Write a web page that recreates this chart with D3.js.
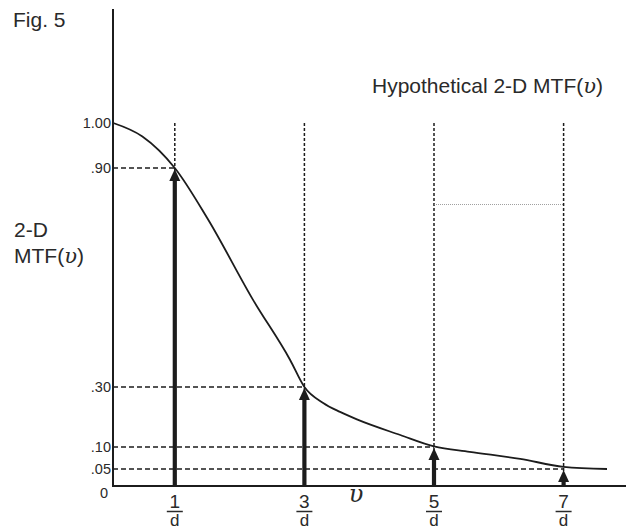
<!DOCTYPE html>
<html>
<head>
<meta charset="utf-8">
<script src="https://cdn.jsdelivr.net/npm/d3@7"></script>
<style>
  body { margin: 0; background: #fff; }
  text { font-family: "Liberation Sans", Arial, sans-serif; fill: #2a2a2a; }
</style>
</head>
<body>
<script>
// curve samples (nu in units of 1/d)
var curveNu  = [0.05, 0.5, 1, 1.5, 2.21, 2.78, 3, 3.29, 3.55, 3.81, 4.48, 5, 5.55, 6.33, 7, 7.67];
var curveMtf = [1.00, 0.97, 0.90, 0.763, 0.538, 0.374, 0.30, 0.247, 0.217, 0.192, 0.14, 0.102, 0.089, 0.073, 0.055, 0.05];

// sampling points: harmonics 1/d, 3/d, 5/d, 7/d
var harmonics = [1, 3, 5, 7];
var harmonicMtf = [0.90, 0.30, 0.10, 0.05];

// y tick labels (the figure is schematic, so the axis is not uniform)
var yTicks = [1.00, 0.90, 0.30, 0.10, 0.05];
var yTickLabels = ["1.00", ".90", ".30", ".10", ".05"];

// faint leftover guide between 5/d and 7/d
var guideNu = [5, 7];
var guideMtf = 0.80;

var width = 626, height = 529;
var axisX = 113, axisY = 486;

var svg = d3.select("body").append("svg")
  .attr("width", width).attr("height", height);

var x = d3.scaleLinear().domain([0, 8]).range([110, 628.4]);
var y = d3.scaleLinear()
  .domain([0, 0.05, 0.10, 0.30, 0.90, 1.00])
  .range([486, 469, 447, 387, 168, 123]);

var ink = "#1c1c1c";

// dashed guides: verticals from top down, horizontals from axis to curve
harmonics.forEach(function(h, i) {
  svg.append("line")
    .attr("x1", x(h)).attr("x2", x(h))
    .attr("y1", y(1.0)).attr("y2", axisY)
    .attr("stroke", ink).attr("stroke-width", 1.5)
    .attr("stroke-dasharray", "3,2");
  svg.append("line")
    .attr("x1", axisX).attr("x2", x(h))
    .attr("y1", y(harmonicMtf[i])).attr("y2", y(harmonicMtf[i]))
    .attr("stroke", ink).attr("stroke-width", 1.5)
    .attr("stroke-dasharray", "5,3");
});

svg.append("line")
  .attr("x1", x(guideNu[0])).attr("x2", x(guideNu[1]))
  .attr("y1", y(guideMtf)).attr("y2", y(guideMtf))
  .attr("stroke", "#888").attr("stroke-width", 0.8)
  .attr("stroke-dasharray", "1,1");

// the MTF curve
var line = d3.line()
  .x(function(d, i) { return x(curveNu[i]); })
  .y(function(d) { return y(d); })
  .curve(d3.curveMonotoneX);

svg.append("path")
  .attr("d", line(curveMtf))
  .attr("fill", "none")
  .attr("stroke", ink)
  .attr("stroke-width", 1.8);

// arrows up to the curve
harmonics.forEach(function(h, i) {
  var tipY = y(harmonicMtf[i]) + 1;
  var cx = x(h);
  svg.append("line")
    .attr("x1", cx).attr("x2", cx)
    .attr("y1", axisY).attr("y2", tipY + 8)
    .attr("stroke", ink).attr("stroke-width", 4.2);
  svg.append("path")
    .attr("d", "M" + cx + "," + tipY + "L" + (cx - 5.5) + "," + (tipY + 12) +
               "L" + (cx + 5.5) + "," + (tipY + 12) + "Z")
    .attr("fill", ink);
});

// axes
svg.append("line")
  .attr("x1", axisX).attr("x2", axisX).attr("y1", 9).attr("y2", axisY + 1)
  .attr("stroke", ink).attr("stroke-width", 2);
svg.append("line")
  .attr("x1", axisX - 1).attr("x2", width).attr("y1", axisY).attr("y2", axisY)
  .attr("stroke", ink).attr("stroke-width", 2);

// y tick labels
svg.selectAll(".ytick").data(yTicks).enter().append("text")
  .attr("class", "ytick")
  .attr("x", axisX - 2)
  .attr("y", function(d) { return y(d); })
  .attr("dy", "0.35em")
  .attr("text-anchor", "end")
  .style("font-size", "14.5px")
  .text(function(d, i) { return yTickLabels[i]; });

svg.append("text")
  .attr("x", 104).attr("y", 498)
  .attr("text-anchor", "middle")
  .style("font-size", "14.5px")
  .text("0");

// x tick labels as fractions n/d
harmonics.forEach(function(h) {
  var g = svg.append("g").attr("transform", "translate(" + x(h) + ",0)");
  g.append("text").attr("y", 508).attr("text-anchor", "middle")
    .style("font-size", "19px").text(h);
  g.append("line").attr("x1", -8).attr("x2", 8)
    .attr("y1", 511.5).attr("y2", 511.5)
    .attr("stroke", "#2a2a2a").attr("stroke-width", 1.5);
  g.append("text").attr("y", 526).attr("text-anchor", "middle")
    .style("font-size", "17px").text("d");
});

// nu label on the x axis
svg.append("text")
  .attr("x", 356).attr("y", 502)
  .attr("text-anchor", "middle")
  .style("font-family", "'DejaVu Serif', serif")
  .style("font-style", "italic")
  .style("font-size", "24px")
  .text("\u03C5");

// titles
svg.append("text")
  .attr("x", 13).attr("y", 27)
  .style("font-size", "21px")
  .text("Fig. 5");

var t = svg.append("text")
  .attr("x", 372).attr("y", 93)
  .style("font-size", "21px");
t.append("tspan").text("Hypothetical 2-D MTF(");
t.append("tspan").style("font-family", "'DejaVu Serif', serif")
  .style("font-style", "italic").text("\u03C5");
t.append("tspan").text(")");

svg.append("text")
  .attr("x", 14).attr("y", 237)
  .style("font-size", "21px")
  .text("2-D");
var yl = svg.append("text")
  .attr("x", 14).attr("y", 263)
  .style("font-size", "21px");
yl.append("tspan").text("MTF(");
yl.append("tspan").style("font-family", "'DejaVu Serif', serif")
  .style("font-style", "italic").text("\u03C5");
yl.append("tspan").text(")");
</script>
</body>
</html>
